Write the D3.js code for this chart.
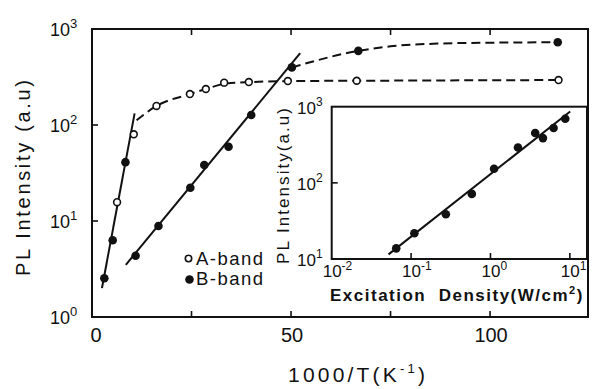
<!DOCTYPE html>
<html>
<head>
<meta charset="utf-8">
<script src="https://cdn.jsdelivr.net/npm/d3@7"></script>
<style>
  body { margin: 0; background: #fff; }
  text { font-family: "Liberation Sans", Arial, sans-serif; fill: #111; white-space: pre; }
</style>
</head>
<body>
<div class="chart"></div>
<script>
// main panel: PL intensity vs 1000/T
var steepT = [3.1, 5.2, 6.3, 8.4, 10.5]
var steepI = [2.53, 6.3, 15.7, 41, 80]
var steepOpen = [false, false, true, false, true]

var aT = [16.2, 24.6, 28.6, 33.2, 39.4, 49.2, 66.5, 117.2]
var aI = [158, 210, 237, 276, 280, 287, 289, 294]

var bT = [10.95, 16.7, 24.7, 28.2, 34.3, 40.0, 50.2, 66.9, 117.0]
var bI = [4.35, 8.87, 22.2, 38.3, 59.4, 127, 398, 592, 727]

// fitted lines and dashed guides
var steepFitT = [2.5, 10.7]
var steepFitI = [2.0, 132]
var bFitT = [8.5, 52.3]
var bFitI = [3.5, 560]
var aCurveT = [11.2, 16.2, 24.6, 28.6, 33.2, 40, 50, 67, 117.2]
var aCurveI = [112, 158, 210, 237, 268, 280, 287, 289, 294]
var bCurveT = [50.2, 66.9, 75, 87, 100, 117]
var bCurveI = [398, 592, 660, 705, 720, 727]

var xTicks = [0, 50, 100]
var xMinor = [25, 50, 75, 100]
var yTicks = [1, 10, 100, 1000]
var yExp = ["0", "1", "2", "3"]

// inset: PL intensity vs excitation density
var exD = [0.065, 0.110, 0.274, 0.582, 1.11, 2.22, 3.66, 4.58, 6.24, 8.75]
var exI = [13.8, 21.8, 38.7, 71.6, 153, 291, 451, 387, 525, 695]
var exFitD = [0.052, 10.1]
var exFitI = [11.5, 867]
var inXTicks = [0.01, 0.1, 1, 10]
var inXExp = ["-2", "-1", "0", "1"]
var inYTicks = [10, 100, 1000]
var inYExp = ["1", "2", "3"]

var width = 592, height = 389

const svg = d3.select('.chart')
    .append('svg')
    .attr("width", width)
    .attr("height", height)

var x = d3.scaleLinear().domain([0, 124.6]).range([92, 588])
var y = d3.scaleLog().domain([1, 1000]).range([317, 29])

var xi = d3.scaleLog().domain([0.01, Math.pow(10, 1.216)]).range([331.7, 587])
var yi = d3.scaleLog().domain([10, 1000]).range([259, 106.7])

var ink = "#111"

function seg(xs, ys, sx, sy, curve){
    var pts = xs.map(function(v, i){ return [sx(v), sy(ys[i])] })
    return d3.line().curve(curve || d3.curveLinear)(pts)
}

// main frame
svg.append("rect")
    .attr("x", x(0)).attr("y", y(1000))
    .attr("width", x.range()[1] - x(0))
    .attr("height", y(1) - y(1000))
    .attr("fill", "none").attr("stroke", ink).attr("stroke-width", 2)

// ticks
svg.append('g').selectAll("line.b")
    .data(xMinor).enter().append("line")
    .attr("x1", function(d){ return x(d) }).attr("x2", function(d){ return x(d) })
    .attr("y1", y(1)).attr("y2", y(1) - 6)
    .attr("stroke", ink).attr("stroke-width", 1.6)
svg.append('g').selectAll("line.t")
    .data(xMinor).enter().append("line")
    .attr("x1", function(d){ return x(d) }).attr("x2", function(d){ return x(d) })
    .attr("y1", y(1000)).attr("y2", y(1000) + 6)
    .attr("stroke", ink).attr("stroke-width", 1.6)
svg.append('g').selectAll("line.l")
    .data([10, 100]).enter().append("line")
    .attr("x1", x(0)).attr("x2", x(0) + 6)
    .attr("y1", function(d){ return y(d) }).attr("y2", function(d){ return y(d) })
    .attr("stroke", ink).attr("stroke-width", 1.6)

// x tick labels
svg.append('g').selectAll("text")
    .data(xTicks).enter().append("text")
    .attr("x", function(d){ return x(d) + (d == 0 ? 4 : 1) })
    .attr("y", 342)
    .attr("text-anchor", "middle")
    .attr("font-size", 20)
    .text(function(d){ return d })

// y tick labels
var yl = svg.append('g').selectAll("text")
    .data(yTicks).enter().append("text")
    .attr("x", 50)
    .attr("y", function(d){ return y(d) + 7 })
    .attr("font-size", 18)
yl.append("tspan").text("10")
yl.append("tspan").attr("dy", -8).attr("font-size", 13)
    .text(function(d, i){ return yExp[i] })

// axis titles
svg.append("text")
    .attr("transform", "translate(30,178) rotate(-90)")
    .attr("text-anchor", "middle")
    .attr("font-size", 20)
    .attr("textLength", 196).attr("lengthAdjust", "spacing")
    .text("PL Intensity (a.u)")

var xt = svg.append("text")
    .attr("x", 288).attr("y", 382)
    .attr("font-size", 21)
    .attr("letter-spacing", 3.2)
xt.append("tspan").text("1000/T(K")
xt.append("tspan").attr("dy", -9).attr("font-size", 13).text("-1")
xt.append("tspan").attr("dy", 9).text(")")

// fitted solid lines
svg.append("path").attr("d", seg(steepFitT, steepFitI, x, y))
    .attr("stroke", ink).attr("stroke-width", 2).attr("fill", "none")
svg.append("path").attr("d", seg(bFitT, bFitI, x, y))
    .attr("stroke", ink).attr("stroke-width", 2).attr("fill", "none")

// dashed guides
svg.append("path").attr("d", seg(aCurveT, aCurveI, x, y, d3.curveMonotoneX))
    .attr("stroke", ink).attr("stroke-width", 2).attr("fill", "none")
    .attr("stroke-dasharray", "9,5")
svg.append("path").attr("d", seg(bCurveT, bCurveI, x, y, d3.curveMonotoneX))
    .attr("stroke", ink).attr("stroke-width", 2).attr("fill", "none")
    .attr("stroke-dasharray", "9,5")

// markers
function openDots(xs, ys){
    svg.append('g').selectAll("circle")
        .data(xs).enter().append("circle")
        .attr("cx", function(d){ return x(d) })
        .attr("cy", function(d, i){ return y(ys[i]) })
        .attr("r", 3.4)
        .attr("fill", "#fff").attr("stroke", ink).attr("stroke-width", 1.6)
}
function fullDots(xs, ys){
    svg.append('g').selectAll("circle")
        .data(xs).enter().append("circle")
        .attr("cx", function(d){ return x(d) })
        .attr("cy", function(d, i){ return y(ys[i]) })
        .attr("r", 4.3)
        .attr("fill", ink)
}
openDots(aT, aI)
fullDots(bT, bI)
openDots(steepT.filter(function(d, i){ return steepOpen[i] }),
         steepI.filter(function(d, i){ return steepOpen[i] }))
fullDots(steepT.filter(function(d, i){ return !steepOpen[i] }),
         steepI.filter(function(d, i){ return !steepOpen[i] }))

// legend
svg.append("circle").attr("cx", 188.5).attr("cy", 258.5).attr("r", 3.2)
    .attr("fill", "#fff").attr("stroke", ink).attr("stroke-width", 1.6)
svg.append("circle").attr("cx", 189.5).attr("cy", 279.5).attr("r", 4.3)
    .attr("fill", ink)
svg.append("text").attr("x", 196).attr("y", 265).attr("font-size", 18.5)
    .attr("textLength", 67).attr("lengthAdjust", "spacing").text("A-band")
svg.append("text").attr("x", 196).attr("y", 285).attr("font-size", 18.5)
    .attr("textLength", 67).attr("lengthAdjust", "spacing").text("B-band")

// ---- inset ----
var ins = svg.append('g')
ins.append("rect")
    .attr("x", xi.range()[0]).attr("y", yi(1000))
    .attr("width", xi.range()[1] - xi.range()[0])
    .attr("height", yi(10) - yi(1000))
    .attr("fill", "#fff").attr("stroke", ink).attr("stroke-width", 2)

ins.append('g').selectAll("line")
    .data(inXTicks.slice(1)).enter().append("line")
    .attr("x1", function(d){ return xi(d) }).attr("x2", function(d){ return xi(d) })
    .attr("y1", yi(10)).attr("y2", yi(10) - 6)
    .attr("stroke", ink).attr("stroke-width", 1.6)
ins.append("line")
    .attr("x1", xi.range()[0]).attr("x2", xi.range()[0] + 6)
    .attr("y1", yi(100)).attr("y2", yi(100))
    .attr("stroke", ink).attr("stroke-width", 1.6)

var ixl = ins.append('g').selectAll("text")
    .data(inXTicks).enter().append("text")
    .attr("x", function(d){ return xi(d) - 9 })
    .attr("y", 277)
    .attr("font-size", 17)
ixl.append("tspan").text("10")
ixl.append("tspan").attr("dy", -7).attr("font-size", 12)
    .text(function(d, i){ return inXExp[i] })

var iyl = ins.append('g').selectAll("text")
    .data(inYTicks).enter().append("text")
    .attr("x", 297)
    .attr("y", function(d){ return yi(d) + 7 })
    .attr("font-size", 17)
iyl.append("tspan").text("10")
iyl.append("tspan").attr("dy", -8).attr("font-size", 12)
    .text(function(d, i){ return inYExp[i] })

ins.append("text")
    .attr("transform", "translate(289,186) rotate(-90)")
    .attr("text-anchor", "middle")
    .attr("font-size", 17)
    .attr("textLength", 156).attr("lengthAdjust", "spacing")
    .text("PL Intensity(a.u)")

var el = ins.append("text")
    .attr("x", 330).attr("y", 301)
    .attr("font-size", 17).attr("font-weight", "bold")
    .attr("letter-spacing", 1.5)
el.append("tspan").text("Excitation  Density(W/cm")
el.append("tspan").attr("dy", -7).attr("font-size", 11).text("2")
el.append("tspan").attr("dy", 7).text(")")

ins.append("path").attr("d", seg(exFitD, exFitI, xi, yi))
    .attr("stroke", ink).attr("stroke-width", 2).attr("fill", "none")
ins.append('g').selectAll("circle")
    .data(exD).enter().append("circle")
    .attr("cx", function(d){ return xi(d) })
    .attr("cy", function(d, i){ return yi(exI[i]) })
    .attr("r", 4.3)
    .attr("fill", ink)
</script>
</body>
</html>
